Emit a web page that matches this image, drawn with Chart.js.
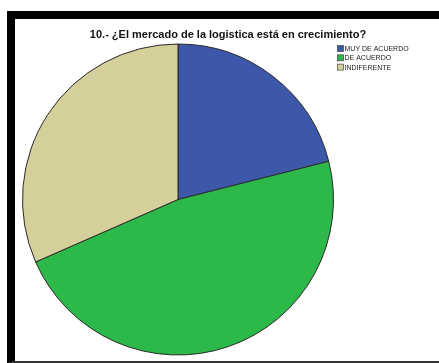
<!DOCTYPE html>
<html>
<head>
<meta charset="utf-8">
<script src="https://cdn.jsdelivr.net/npm/chart.js@4/dist/chart.umd.min.js"></script>
<style>
  html, body { margin: 0; padding: 0; background: #fff; }
  #wrap { position: relative; width: 439px; height: 363px; overflow: hidden; }
  #frame {
    position: absolute; left: 7px; top: 11px; width: 440px; height: 342px;
    border-left: 8px solid #000; border-top: 8px solid #000; border-bottom: 2px solid #333;
  }
  canvas { position: absolute; left: 0; top: 0; }
</style>
</head>
<body>
<div id="wrap">
  <div id="frame"></div>
  <canvas id="c" width="439" height="363"></canvas>
</div>
<script>
// Survey question 10: answer counts per category
const chartTitle = '10.- ¿El mercado de la logistica está en crecimiento?';
const categories = ['MUY DE ACUERDO', 'DE ACUERDO', 'INDIFERENTE'];
const counts = [4, 9, 6];
const colors = ['#3d57a9', '#2db84a', '#d4cf9b'];

// Title and small boxed legend drawn onto the chart canvas
const annotate = {
  id: 'annotate',
  afterDraw(chart) {
    const ctx = chart.ctx;
    ctx.save();
    ctx.fillStyle = '#111';
    ctx.font = 'bold 11px "Liberation Sans", Arial, sans-serif';
    ctx.textAlign = 'center';
    ctx.textBaseline = 'alphabetic';
    ctx.fillText(chartTitle, 228, 38);

    const ds = chart.data.datasets[0];
    ctx.font = '7px "Liberation Sans", Arial, sans-serif';
    ctx.textAlign = 'left';
    ctx.textBaseline = 'middle';
    chart.data.labels.forEach((lab, i) => {
      const y = 48.5 + i * 9.3;
      ctx.fillStyle = ds.backgroundColor[i];
      ctx.fillRect(337.5, y - 3, 6, 6);
      ctx.strokeStyle = '#444';
      ctx.lineWidth = 0.7;
      ctx.strokeRect(337.5, y - 3, 6, 6);
      ctx.fillStyle = '#222';
      ctx.fillText(lab, 344.5, y + 0.5);
    });
    ctx.restore();
  }
};

new Chart(document.getElementById('c'), {
  type: 'pie',
  data: {
    labels: categories,
    datasets: [{
      data: counts,
      backgroundColor: colors,
      borderColor: '#2a2a2a',
      borderWidth: 1
    }]
  },
  options: {
    responsive: false,
    animation: false,
    layout: { padding: { left: 22, right: 105, top: 43, bottom: 7 } },
    plugins: {
      legend: { display: false },
      title: { display: false },
      tooltip: { enabled: false }
    }
  },
  plugins: [annotate]
});
</script>
</body>
</html>
